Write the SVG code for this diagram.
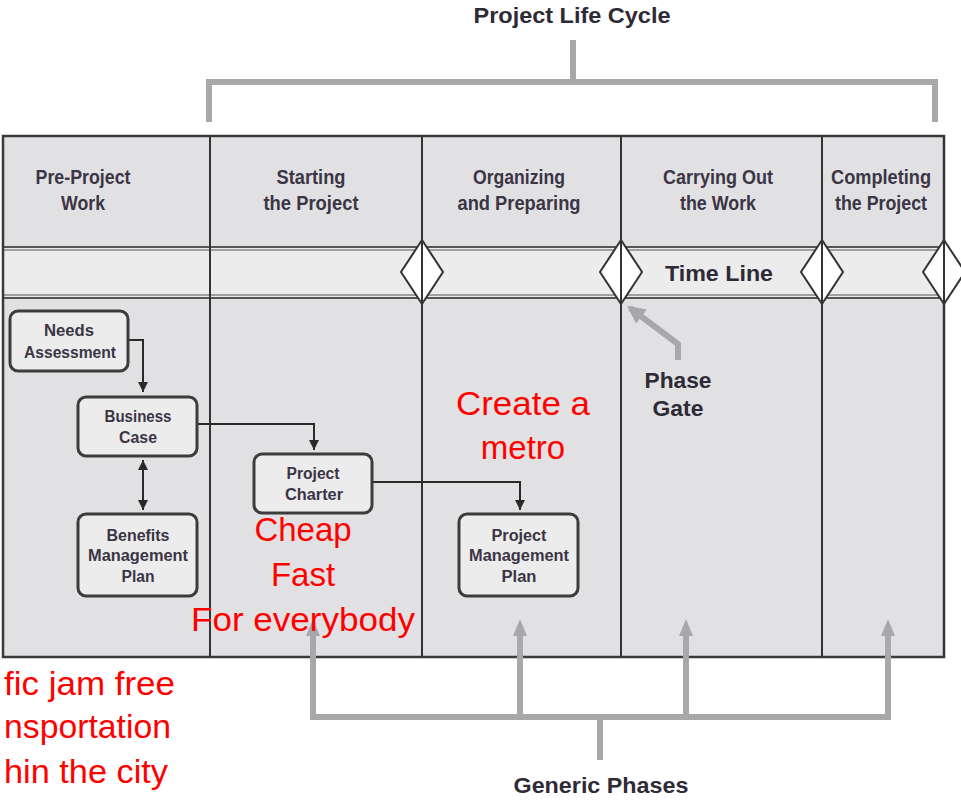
<svg xmlns="http://www.w3.org/2000/svg" width="961" height="801" viewBox="0 0 961 801">
<defs>
<style>
.hdr{font-family:"Liberation Sans Narrow","Liberation Sans",Arial,sans-serif;font-size:20px;font-weight:bold;fill:#3b3545;text-anchor:middle}
.bx{font-family:"Liberation Sans Narrow","Liberation Sans",Arial,sans-serif;font-size:16px;font-weight:bold;fill:#3b3545;text-anchor:middle}
.big{font-family:"Liberation Sans Narrow","Liberation Sans",Arial,sans-serif;font-size:22px;font-weight:bold;fill:#2e2a36;text-anchor:middle}
.red{font-family:"Liberation Sans",Arial,sans-serif;font-size:33px;fill:#ff0000;text-anchor:middle}
.redl{font-family:"Liberation Sans",Arial,sans-serif;font-size:33px;fill:#ff0000;text-anchor:end}
.box{fill:#ececec;stroke:#3c3c3c;stroke-width:3}
.gray{fill:none;stroke:#a7a8aa;stroke-width:6}
.conn{fill:none;stroke:#2a2a2a;stroke-width:2}
.col{stroke:#333;stroke-width:2}
.dia{fill:#fff;stroke:#333;stroke-width:2}
</style>
<marker id="ah" viewBox="0 0 10 10" refX="10" refY="5" markerWidth="5" markerHeight="5" orient="auto-start-reverse" markerUnits="strokeWidth">
<path d="M0,0 L10,5 L0,10 z" fill="#2a2a2a"/>
</marker>
<marker id="gah" viewBox="0 0 10 10" refX="8" refY="5" markerWidth="3" markerHeight="3" orient="auto" markerUnits="strokeWidth">
<path d="M0,0 L10,5 L0,10 z" fill="#a7a8aa"/>
</marker>
</defs>
<rect width="961" height="801" fill="#ffffff"/>

<g id="table">
<rect x="3" y="136" width="941" height="521" fill="#e1e1e3"/>
<rect x="3" y="248" width="941" height="49" fill="#ececec"/>
<line x1="3" y1="247" x2="944" y2="247" stroke="#555" stroke-width="2"/>
<line x1="3" y1="250" x2="944" y2="250" stroke="#a0a0a0" stroke-width="2"/>
<line x1="3" y1="295" x2="944" y2="295" stroke="#a0a0a0" stroke-width="2"/>
<line x1="3" y1="298" x2="944" y2="298" stroke="#555" stroke-width="2"/>
<rect x="3" y="136" width="941" height="521" fill="none" stroke="#3a3a3a" stroke-width="2.5"/>
<polygon class="dia" points="422,240 443,272 422,304 401,272"/>
<polygon class="dia" points="621,240 642,272 621,304 600,272"/>
<polygon class="dia" points="822,240 843,272 822,304 801,272"/>
<polygon class="dia" points="944,240 965,272 944,304 923,272"/>
<line class="col" x1="210" y1="136" x2="210" y2="657"/>
<line class="col" x1="422" y1="136" x2="422" y2="657"/>
<line class="col" x1="621" y1="136" x2="621" y2="657"/>
<line class="col" x1="822" y1="136" x2="822" y2="657"/>
<line class="col" x1="944" y1="136" x2="944" y2="657"/>
<text class="hdr" x="83" y="184" textLength="95" lengthAdjust="spacingAndGlyphs">Pre-Project</text>
<text class="hdr" x="83" y="210" textLength="44" lengthAdjust="spacingAndGlyphs">Work</text>
<text class="hdr" x="311" y="184" textLength="69" lengthAdjust="spacingAndGlyphs">Starting</text>
<text class="hdr" x="311" y="210" textLength="95" lengthAdjust="spacingAndGlyphs">the Project</text>
<text class="hdr" x="519" y="184" textLength="92" lengthAdjust="spacingAndGlyphs">Organizing</text>
<text class="hdr" x="519" y="210" textLength="123" lengthAdjust="spacingAndGlyphs">and Preparing</text>
<text class="hdr" x="718" y="184" textLength="110" lengthAdjust="spacingAndGlyphs">Carrying Out</text>
<text class="hdr" x="718" y="210" textLength="76" lengthAdjust="spacingAndGlyphs">the Work</text>
<text class="hdr" x="881" y="184" textLength="100" lengthAdjust="spacingAndGlyphs">Completing</text>
<text class="hdr" x="881" y="210" textLength="92" lengthAdjust="spacingAndGlyphs">the Project</text>
<text class="big" x="719" y="281" textLength="108" lengthAdjust="spacingAndGlyphs">Time Line</text>
</g>

<g id="connectors">
<polyline class="conn" points="128,340 143,340 143,392" marker-end="url(#ah)"/>
<line class="conn" x1="143" y1="460" x2="143" y2="510" marker-start="url(#ah)" marker-end="url(#ah)"/>
<polyline class="conn" points="197,424 314,424 314,450" marker-end="url(#ah)"/>
<polyline class="conn" points="372,482 520,482 520,510" marker-end="url(#ah)"/>
<polyline class="gray" points="573,40 573,82"/>
<polyline class="gray" points="209,122 209,82 935,82 935,122"/>
<polyline class="gray" points="678,360 678,344 630,308" marker-end="url(#gah)"/>
<polyline class="gray" points="313,630 313,717 888,717 888,630"/>
<line class="gray" x1="520" y1="630" x2="520" y2="717"/>
<line class="gray" x1="686" y1="630" x2="686" y2="717"/>
<line class="gray" x1="600" y1="717" x2="600" y2="760"/>
<path d="M306,636 L313,619 L320,636 z" fill="#a7a8aa"/>
<path d="M513,636 L520,619 L527,636 z" fill="#a7a8aa"/>
<path d="M679,636 L686,619 L693,636 z" fill="#a7a8aa"/>
<path d="M881,636 L888,619 L895,636 z" fill="#a7a8aa"/>
</g>

<g id="needs-assessment">
<rect class="box" x="10" y="311" width="118" height="60" rx="8"/>
<text class="bx" x="69" y="336" textLength="50" lengthAdjust="spacingAndGlyphs">Needs</text>
<text class="bx" x="70" y="358" textLength="92" lengthAdjust="spacingAndGlyphs">Assessment</text>
</g>
<g id="business-case">
<rect class="box" x="78" y="397" width="119" height="59" rx="8"/>
<text class="bx" x="138" y="422" textLength="67" lengthAdjust="spacingAndGlyphs">Business</text>
<text class="bx" x="138" y="443" textLength="38" lengthAdjust="spacingAndGlyphs">Case</text>
</g>
<g id="benefits-management-plan">
<rect class="box" x="78" y="514" width="119" height="82" rx="8"/>
<text class="bx" x="138" y="541" textLength="63" lengthAdjust="spacingAndGlyphs">Benefits</text>
<text class="bx" x="138" y="561" textLength="100" lengthAdjust="spacingAndGlyphs">Management</text>
<text class="bx" x="138" y="582" textLength="33" lengthAdjust="spacingAndGlyphs">Plan</text>
</g>
<g id="project-charter">
<rect class="box" x="254" y="454" width="118" height="59" rx="8"/>
<text class="bx" x="313" y="479" textLength="53" lengthAdjust="spacingAndGlyphs">Project</text>
<text class="bx" x="314" y="500" textLength="58" lengthAdjust="spacingAndGlyphs">Charter</text>
</g>
<g id="project-management-plan">
<rect class="box" x="459" y="514" width="119" height="82" rx="8"/>
<text class="bx" x="519" y="541" textLength="55" lengthAdjust="spacingAndGlyphs">Project</text>
<text class="bx" x="519" y="561" textLength="100" lengthAdjust="spacingAndGlyphs">Management</text>
<text class="bx" x="519" y="582" textLength="35" lengthAdjust="spacingAndGlyphs">Plan</text>
</g>

<g id="labels">
<text class="big" x="572" y="23" font-size="21" textLength="197" lengthAdjust="spacingAndGlyphs">Project Life Cycle</text>
<text class="big" x="678" y="388" textLength="67" lengthAdjust="spacingAndGlyphs">Phase</text>
<text class="big" x="678" y="416" textLength="51" lengthAdjust="spacingAndGlyphs">Gate</text>
<text class="big" x="601" y="793" textLength="175" lengthAdjust="spacingAndGlyphs">Generic Phases</text>
</g>

<g id="annotations">
<text class="red" x="523" y="415" textLength="134" lengthAdjust="spacingAndGlyphs">Create a</text>
<text class="red" x="523" y="459">metro</text>
<text class="red" x="303" y="541">Cheap</text>
<text class="red" x="303" y="586">Fast</text>
<text class="red" x="303" y="631" textLength="224" lengthAdjust="spacingAndGlyphs">For everybody</text>
<text class="redl" x="175" y="695" textLength="171" lengthAdjust="spacingAndGlyphs">fic jam free</text>
<text class="redl" x="171" y="738" textLength="167" lengthAdjust="spacingAndGlyphs">nsportation</text>
<text class="redl" x="168" y="783" textLength="164" lengthAdjust="spacingAndGlyphs">hin the city</text>
</g>
</svg>
